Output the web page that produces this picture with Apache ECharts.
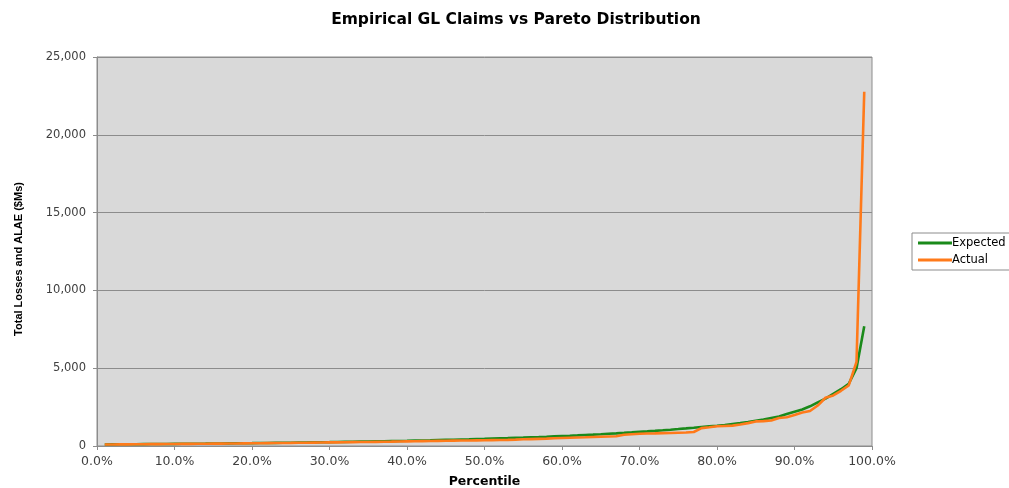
<!DOCTYPE html>
<html>
<head>
<meta charset="utf-8">
<script src="https://cdn.jsdelivr.net/npm/echarts@6/dist/echarts.min.js"></script>
<style>
html,body{margin:0;padding:0;background:#fff;}
#chart{width:1009px;height:488px;}
</style>
</head>
<body>
<div id="chart"></div>
<script>
var percentiles = [0.01,0.02,0.03,0.04,0.05,0.06,0.07,0.08,0.09,0.10,
0.11,0.12,0.13,0.14,0.15,0.16,0.17,0.18,0.19,0.20,
0.21,0.22,0.23,0.24,0.25,0.26,0.27,0.28,0.29,0.30,
0.31,0.32,0.33,0.34,0.35,0.36,0.37,0.38,0.39,0.40,
0.41,0.42,0.43,0.44,0.45,0.46,0.47,0.48,0.49,0.50,
0.51,0.52,0.53,0.54,0.55,0.56,0.57,0.58,0.59,0.60,
0.61,0.62,0.63,0.64,0.65,0.66,0.67,0.68,0.69,0.70,
0.71,0.72,0.73,0.74,0.75,0.76,0.77,0.78,0.79,0.80,
0.81,0.82,0.83,0.84,0.85,0.86,0.87,0.88,0.89,0.90,
0.91,0.92,0.93,0.94,0.95,0.96,0.97,0.98,0.99];

var expected = [100,104,108,112,116,120,124,128,132,136,
140,144,148,152,157,162,167,172,177,182,
188,194,200,206,212,219,226,233,240,247,
255,263,271,279,287,296,305,314,324,334,
345,356,367,379,391,404,417,430,444,458,
473,488,504,521,538,556,575,595,616,638,
660,683,707,732,758,785,813,842,873,905,
938,973,1010,1048,1088,1130,1175,1222,1262,1300,
1350,1410,1470,1540,1620,1700,1800,1900,2050,2200,
2350,2550,2800,3050,3350,3650,4000,5000,7700];

var actual = [95,99,103,107,111,115,119,123,127,131,
135,139,143,147,151,155,160,165,170,175,
180,185,190,195,200,206,212,218,224,230,
236,242,248,254,260,267,274,281,290,300,
308,316,324,332,340,346,352,358,362,365,
375,385,396,408,430,445,460,475,500,515,
530,545,560,580,595,610,625,720,760,790,
800,810,825,840,855,870,900,1150,1200,1270,
1290,1310,1380,1470,1580,1600,1640,1800,1850,1990,
2150,2250,2600,3100,3250,3550,3900,5400,22770];

var yTicks = [0,5000,10000,15000,20000,25000];

function pairs(ys){ return percentiles.map(function(p,i){ return [p, ys[i]]; }); }

var chart = echarts.init(document.getElementById('chart'), null, {renderer:'canvas'});
var wideFont = 'DejaVu Sans, Verdana, sans-serif';
chart.setOption({
  animation:false,
  backgroundColor:'#ffffff',
  title:{
    text:'Empirical GL Claims vs Pareto Distribution',
    left:511, top:7, textAlign:'center',
    textStyle:{fontFamily:wideFont, fontSize:15.5, fontWeight:'bold', color:'#000'}
  },
  legend:{
    orient:'vertical', left:912, top:233,
    backgroundColor:'#ffffff', borderColor:'#8c8c8c', borderWidth:1, borderRadius:0,
    padding:[4,30,4,6], itemGap:5,
    itemWidth:34, itemHeight:3, icon:'rect',
    textStyle:{fontFamily:wideFont, fontSize:11.5, color:'#000', padding:[0,0,0,-5]},
    data:['Expected','Actual']
  },
  grid:{
    left:97, right:137, top:57, bottom:42,
    outerBoundsMode:'none', containLabel:false,
    show:true, backgroundColor:'#d9d9d9', borderColor:'#8c8c8c', borderWidth:1
  },
  xAxis:{
    type:'value', min:0, max:1, interval:0.1,
    name:'Percentile', nameLocation:'middle', nameGap:29,
    nameTextStyle:{fontFamily:wideFont, fontSize:12.5, fontWeight:'bold', color:'#000'},
    axisLine:{show:true, onZero:false, lineStyle:{color:'#8c8c8c', width:1}},
    axisTick:{show:true, length:4, lineStyle:{color:'#8c8c8c'}},
    axisLabel:{formatter:function(v){return (v*100).toFixed(1)+'%';}, fontFamily:wideFont, fontSize:12.5, color:'#404040', margin:9},
    splitLine:{show:false}
  },
  yAxis:{
    type:'value', min:0, max:25000, interval:5000,
    axisLine:{show:true, lineStyle:{color:'#8c8c8c', width:1}},
    axisTick:{show:true, length:4, lineStyle:{color:'#8c8c8c'}},
    axisLabel:{formatter:function(v){ return yTicks.indexOf(v)>=0 ? v.toLocaleString('en-US') : ''; }, fontFamily:wideFont, fontSize:11.5, color:'#404040', margin:11},
    splitLine:{show:true, lineStyle:{color:'#8c8c8c', width:1}}
  },
  graphic:[{
    type:'text', x:19, y:259, rotation:Math.PI/2,
    style:{text:'Total Losses and ALAE ($Ms)', fill:'#000',
      font:'bold 11px "Liberation Sans Narrow", "Liberation Sans", Arial, sans-serif',
      align:'center', verticalAlign:'middle'}
  }],
  series:[
    {name:'Expected', type:'line', data:pairs(expected), showSymbol:false, symbol:'none',
     itemStyle:{color:'#1a8a1a'}, lineStyle:{color:'#1a8a1a', width:2.6}, z:2},
    {name:'Actual', type:'line', data:pairs(actual), showSymbol:false, symbol:'none',
     itemStyle:{color:'#ff7a1a'}, lineStyle:{color:'#ff7a1a', width:2.6}, z:3}
  ]
});
</script>
</body>
</html>
